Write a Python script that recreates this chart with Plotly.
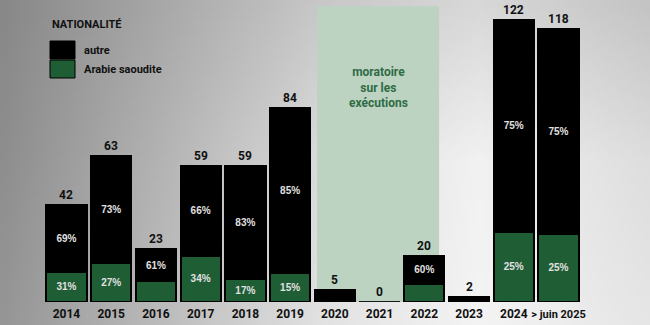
import base64
import struct
import zlib

import numpy as np
import plotly.graph_objects as go

# ---- data -------------------------------------------------------------
years = ["2014", "2015", "2016", "2017", "2018", "2019", "2020", "2021",
         "2022", "2023", "2024", "> juin 2025"]
totals = [42, 63, 23, 59, 59, 84, 5, 0, 20, 2, 122, 118]
# share of executed people of Saudi nationality (%)
saudi_share = [31, 27, 39, 34, 17, 15, 0, 0, 40, 0, 25, 25]
# percentage labels printed inside the segments ("" = no label)
saudi_labels = ["31%", "27%", "", "34%", "17%", "15%", "", "", "", "", "25%", "25%"]
other_labels = ["69%", "73%", "61%", "66%", "83%", "85%", "", "", "60%", "", "75%", "75%"]

saudi = [t * s / 100 for t, s in zip(totals, saudi_share)]
other = [t - s for t, s in zip(totals, saudi)]

# ---- styling ----------------------------------------------------------
W, H = 650, 325
GREEN = "#1f5d35"
COND = "Roboto, Liberation Sans, sans-serif"
PCT_FONT = dict(family="Liberation Sans, Arial, sans-serif", size=10,
                color="#e0e0e0", weight="bold")

# plot area in pixels
PL, PR, PB, PT = 44.1, 580.9, 302.0, 0.0


def grey_png(arr):
    """Encode a 2-D uint8 array as a greyscale PNG data URI."""
    h, w = arr.shape
    raw = b"".join(b"\x00" + row.tobytes() for row in arr)

    def chunk(tag, data):
        c = struct.pack(">I", len(data)) + tag + data
        return c + struct.pack(">I", zlib.crc32(tag + data) & 0xFFFFFFFF)

    png = (b"\x89PNG\r\n\x1a\n"
           + chunk(b"IHDR", struct.pack(">IIBBBBB", w, h, 8, 0, 0, 0, 0))
           + chunk(b"IDAT", zlib.compress(raw, 9))
           + chunk(b"IEND", b""))
    return "data:image/png;base64," + base64.b64encode(png).decode()


# soft grey backdrop: dark on the left, bright toward the lower right
gx = np.array([0, 160, 320, 480, 650], dtype=float)
gy = np.array([0, 160, 325], dtype=float)
gv = np.array([
    [136, 168, 200, 216, 196],
    [142, 180, 220, 242, 222],
    [150, 188, 226, 244, 230],
], dtype=float)
nx, ny = 130, 65
xs = np.linspace(0, W, nx)
ys = np.linspace(0, H, ny)
rows = np.array([np.interp(xs, gx, r) for r in gv])
img = np.array([[np.interp(y, gy, rows[:, i]) for i in range(nx)] for y in ys])
bg = grey_png(np.clip(img, 0, 255).astype(np.uint8))

# the long last category gets a slightly smaller tick label
tick_text = [y if not y.startswith(">") else
             "<span style='font-size:11px'>&gt; juin 2025</span>"
             for y in years]

fig = go.Figure()

fig.add_trace(go.Bar(
    x=years, y=saudi, name="Arabie saoudite",
    marker=dict(color=GREEN, line=dict(color="#000000", width=2)),
    text=saudi_labels, textposition="inside", insidetextanchor="middle",
    textfont=PCT_FONT, constraintext="none", textangle=0,
    width=0.9, hoverinfo="skip",
))
fig.add_trace(go.Bar(
    x=years, y=other, name="autre",
    marker=dict(color="#000000", line=dict(color="#000000", width=2)),
    text=other_labels, textposition="inside", insidetextanchor="middle",
    textfont=PCT_FONT, constraintext="none", textangle=0,
    width=0.9, hoverinfo="skip",
))

annotations = []
shapes = []

# totals above each column (category index used as x position)
for idx, t in enumerate(totals):
    annotations.append(dict(
        x=idx, y=t, xref="x", yref="y", text=str(t), showarrow=False,
        yanchor="bottom", yshift=1,
        font=dict(family=COND, size=12, color="#111111", weight="bold"),
    ))
    if t == 0:
        shapes.append(dict(type="line", xref="x", yref="y",
                           x0=idx - 0.45, x1=idx + 0.45, y0=t, y1=t,
                           line=dict(color="#222222", width=1.5)))

# moratorium band 2020-2022
shapes.append(dict(type="rect", xref="x", yref="y", layer="below",
                   x0=5.6, x1=8.33, y0=0, y1=128,
                   fillcolor="#bcd3c2", line=dict(width=0)))
annotations.append(dict(
    x=(5.6 + 8.33) / 2, y=93, xref="x", yref="y",
    text="moratoire<br>sur les<br>exécutions", showarrow=False,
    font=dict(family=COND, size=12, color="#2f6b45", weight="bold"),
))


# legend drawn by hand
def px(x):
    return x / W


def py(y):
    return 1 - y / H


annotations.append(dict(x=px(50), y=py(25), xref="paper", yref="paper",
                        xanchor="left", yanchor="middle", showarrow=False,
                        text="NATIONALITÉ",
                        font=dict(family=COND, size=11, color="#111111",
                                  weight="bold")))
for label, color, y0, y1 in [("autre", "#000000", 41, 59),
                             ("Arabie saoudite", GREEN, 60, 78)]:
    shapes.append(dict(type="rect", xref="paper", yref="paper",
                       x0=px(50), x1=px(75), y0=py(y1), y1=py(y0),
                       fillcolor=color, line=dict(color="#000000", width=1)))
    annotations.append(dict(x=px(82), y=py((y0 + y1) / 2), xref="paper",
                            yref="paper", xanchor="left", yanchor="middle",
                            showarrow=False, text=label,
                            font=dict(family=COND, size=11, color="#111111",
                                      weight="bold")))

fig.update_layout(
    width=W, height=H,
    margin=dict(l=0, r=0, t=0, b=0, autoexpand=False),
    paper_bgcolor="rgba(0,0,0,0)", plot_bgcolor="rgba(0,0,0,0)",
    barmode="stack", bargap=0.1, showlegend=False,
    images=[dict(source=bg, xref="paper", yref="paper", x=0, y=1,
                 sizex=1, sizey=1, sizing="stretch", layer="below")],
    xaxis=dict(domain=[PL / W, PR / W], range=[-0.5, 11.5],
               tickmode="array", tickvals=years, ticktext=tick_text,
               showgrid=False, zeroline=False, showline=False, ticks="",
               tickangle=0, automargin=False, ticklabelstandoff=3,
               tickfont=dict(family=COND, size=12, color="#111111",
                             weight="bold"),
               fixedrange=True),
    yaxis=dict(domain=[(H - PB) / H, 1 - PT / H], range=[0, PB / 2.311],
               showgrid=False, zeroline=False, showline=False,
               showticklabels=False, automargin=False, fixedrange=True),
    shapes=shapes, annotations=annotations,
)

fig.write_html("out.html", config={"displayModeBar": False})
